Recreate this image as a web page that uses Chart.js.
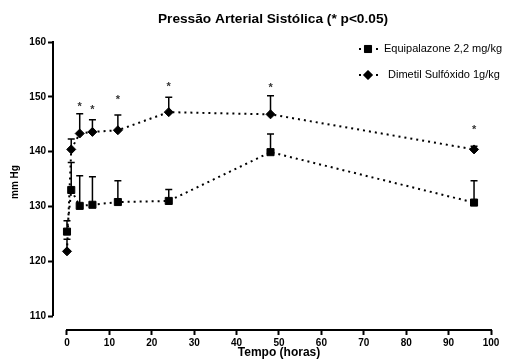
<!DOCTYPE html>
<html><head><meta charset="utf-8">
<script src="https://cdn.jsdelivr.net/npm/chart.js@4/dist/chart.umd.min.js"></script>
<style>html,body{margin:0;padding:0;background:#fff}#wrap{width:515px;height:364px}</style>
</head><body><div id="wrap"><canvas id="c" width="515" height="364"></canvas></div>
<script>
const times = [0, 1, 3, 6, 12, 24, 48, 96];
const equipalazone = [125.4, 133.0, 130.1, 130.3, 130.8, 131.0, 139.9, 130.7];
const equipalazoneSem = [2.0, 5.0, 5.5, 5.1, 3.9, 2.1, 3.3, 4.0];
const dmso = [121.8, 140.4, 143.3, 143.6, 143.9, 147.2, 146.8, 140.4];
const dmsoSem = [2.2, 1.9, 3.6, 2.2, 2.8, 2.7, 3.4, 0.6];
const starTimes = [3, 6, 12, 24, 48, 96];
const starLevels = [148.7, 148.2, 150.0, 152.3, 152.2, 144.5];
const xTicks = [0, 10, 20, 30, 40, 50, 60, 70, 80, 90, 100];
const yTicks = [110, 120, 130, 140, 150, 160];
const seriesNames = ['Equipalazone 2,2 mg/kg', 'Dimetil Sulfóxido 1g/kg'];
const chartTitle = 'Pressão Arterial Sistólica (* p<0.05)';
const xTitle = 'Tempo (horas)';
const yTitle = 'mm Hg';

const FONT = '"Liberation Sans", Arial, sans-serif';
const errs = [equipalazoneSem, dmsoSem];

const extras = {
  id: 'extras',
  beforeDatasetsDraw(chart) {
    const ctx = chart.ctx, xs = chart.scales.x, ys = chart.scales.y;
    ctx.save();
    ctx.strokeStyle = '#000';
    ctx.lineWidth = 2;
    ctx.beginPath();
    ctx.moveTo(chart.chartArea.left, ys.getPixelForValue(yTicks[0]));
    ctx.lineTo(chart.chartArea.left, ys.getPixelForValue(yTicks[yTicks.length - 1]) - 1);
    ctx.stroke();
    ctx.beginPath();
    ctx.moveTo(xs.getPixelForValue(xTicks[0]) - 1, chart.chartArea.bottom);
    ctx.lineTo(xs.getPixelForValue(xTicks[xTicks.length - 1]) + 1, chart.chartArea.bottom);
    ctx.stroke();
    ctx.lineWidth = 1.5;
    chart.data.datasets.forEach((ds, di) => {
      ds.data.forEach((p, i) => {
        const x = xs.getPixelForValue(p.x);
        const y0 = ys.getPixelForValue(p.y);
        const y1 = ys.getPixelForValue(p.y + errs[di][i]);
        ctx.beginPath();
        ctx.moveTo(x, y0); ctx.lineTo(x, y1);
        ctx.moveTo(x - 3.5, y1); ctx.lineTo(x + 3.5, y1);
        ctx.stroke();
      });
    });
    ctx.restore();
  },
  afterDraw(chart) {
    const ctx = chart.ctx, xs = chart.scales.x, ys = chart.scales.y;
    ctx.save();
    ctx.fillStyle = '#333';
    ctx.font = 'bold 11px ' + FONT;
    ctx.textAlign = 'center';
    ctx.textBaseline = 'alphabetic';
    starTimes.forEach((t, i) => {
      ctx.fillText('*', xs.getPixelForValue(t), ys.getPixelForValue(starLevels[i]) + 6.3);
    });
    ctx.fillStyle = '#000';
    ctx.font = 'bold 13.7px ' + FONT;
    ctx.textBaseline = 'middle';
    ctx.fillText(chartTitle, 273, 19);
    ctx.font = 'bold 12px ' + FONT;
    ctx.fillText(xTitle, 279, 353);
    ctx.save();
    ctx.translate(15, 182);
    ctx.rotate(-Math.PI / 2);
    ctx.font = 'bold 10px ' + FONT;
    ctx.fillText(yTitle, 0, 0);
    ctx.restore();
    const rows = [49, 75];
    const textX = [384, 388];
    chart.data.datasets.forEach((ds, di) => {
      const y = rows[di];
      ctx.fillRect(359, y - 1, 2, 2);
      ctx.fillRect(376, y - 1, 2, 2);
      Chart.helpers.drawPoint(ctx, {pointStyle: ds.pointStyle, radius: ds.pointRadius, borderWidth: 1}, 368, y);
      ctx.fill();
      ctx.font = '11px ' + FONT;
      ctx.textAlign = 'left';
      ctx.fillText(seriesNames[di], textX[di], y);
    });
    ctx.restore();
  }
};

const mk = (arr) => times.map((t, i) => ({x: t, y: arr[i]}));

new Chart(document.getElementById('c'), {
  type: 'line',
  data: {
    datasets: [
      {label: seriesNames[0], data: mk(equipalazone), pointStyle: 'rect', pointRadius: 5,
       backgroundColor: '#000', borderColor: '#000', borderWidth: 2, borderDash: [2, 4],
       pointBorderWidth: 1, tension: 0, fill: false},
      {label: seriesNames[1], data: mk(dmso), pointStyle: 'rectRot', pointRadius: 4.5,
       backgroundColor: '#000', borderColor: '#000', borderWidth: 2, borderDash: [2, 4],
       pointBorderWidth: 1, tension: 0, fill: false}
    ]
  },
  options: {
    responsive: false, animation: false, devicePixelRatio: 1,
    layout: {padding: {left: 0, right: 24, top: 42, bottom: 0}},
    plugins: {legend: {display: false}, title: {display: false}, tooltip: {enabled: false}},
    scales: {
      x: {
        type: 'linear', min: -3.3, max: 100,
        afterBuildTicks: (s) => { s.ticks = xTicks.map(v => ({value: v})); },
        afterFit: (s) => { s.height = 34; },
        ticks: {font: {family: FONT, size: 10, weight: 'bold'}, color: '#000', padding: 2, autoSkip: false, maxRotation: 0},
        grid: {drawOnChartArea: false, tickLength: 5, tickWidth: 2, tickColor: '#000', color: '#000'},
        border: {display: false}
      },
      y: {
        type: 'linear', min: 107.45, max: 160,
        afterBuildTicks: (s) => { s.ticks = yTicks.map(v => ({value: v})); },
        afterFit: (s) => { s.width = 53; },
        ticks: {font: {family: FONT, size: 10, weight: 'bold'}, color: '#000', padding: 2},
        grid: {drawOnChartArea: false, tickLength: 5, tickWidth: 2, tickColor: '#000', color: '#000'},
        border: {display: false}
      }
    }
  },
  plugins: [extras]
});
</script></body></html>
